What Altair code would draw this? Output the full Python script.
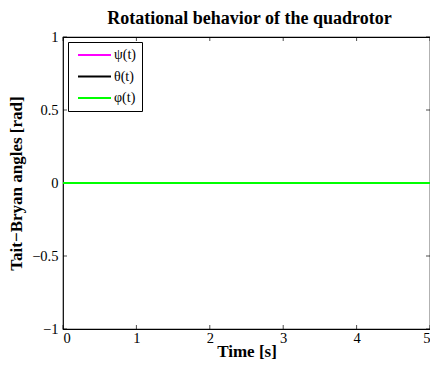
import altair as alt
import pandas as pd

time_s = [0, 5]
psi = [0, 0]
theta = [0, 0]
phi = [0, 0]
series_names = ["ψ(t)", "θ(t)", "φ(t)"]
series_colors = ["#ff00ff", "#000000", "#00ff00"]
x_ticks = [0, 1, 2, 3, 4, 5]
y_ticks = [-1, -0.5, 0, 0.5, 1]

rows = []
for i, (name, vals) in enumerate(zip(series_names, [psi, theta, phi])):
    for t, v in zip(time_s, vals):
        rows.append({"t": t, "v": v, "series": name, "k": i})
df = pd.DataFrame(rows)
df_xt = pd.DataFrame({"x": x_ticks})
df_yt = pd.DataFrame({"y": y_ticks})

FONT = "Liberation Serif"
xs = alt.Scale(domain=[0, 5], nice=False, zero=False)
ys = alt.Scale(domain=[-1, 1], nice=False, zero=False)

lines = alt.Chart(df).mark_line(strokeWidth=2, clip=True).encode(
    x=alt.X("t:Q", scale=xs, axis=alt.Axis(values=x_ticks, format="~g", title="Time [s]",
                                          ticks=False, domain=False, grid=False,
                                          labelPadding=2, titlePadding=-1)),
    y=alt.Y("v:Q", scale=ys, axis=alt.Axis(values=y_ticks, format="~g", title="Tait−Bryan angles [rad]",
                                          ticks=False, domain=False, grid=False,
                                          labelPadding=5, titlePadding=6)),
    color=alt.Color("series:N", sort=series_names,
                    scale=alt.Scale(domain=series_names, range=series_colors),
                    legend=alt.Legend(title=None, orient="none", legendX=5, legendY=5,
                                      strokeColor="black", fillColor="white", padding=6,
                                      symbolType="M-0.6,0H6", symbolStrokeWidth=2, symbolSize=100,
                                      labelFont=FONT, labelFontSize=14, labelColor="black",
                                      rowPadding=7.5, labelOffset=26)),
    detail="k:O",
)

bt = alt.Chart(df_xt).mark_tick(orient="vertical", size=4, thickness=1, color="black", yOffset=-2).encode(
    x=alt.X("x:Q", scale=xs), y=alt.datum(-1))
tt = alt.Chart(df_xt).mark_tick(orient="vertical", size=4, thickness=1, color="black", yOffset=2).encode(
    x=alt.X("x:Q", scale=xs), y=alt.datum(1))
lt = alt.Chart(df_yt).mark_tick(orient="horizontal", size=4, thickness=1, color="black", xOffset=2).encode(
    y=alt.Y("y:Q", scale=ys), x=alt.datum(0))
rt = alt.Chart(df_yt).mark_tick(orient="horizontal", size=4, thickness=1, color="black", xOffset=-2).encode(
    y=alt.Y("y:Q", scale=ys), x=alt.datum(5))

chart = alt.layer(bt, tt, lt, rt, lines).properties(
    width=367, height=292,
    title=alt.Title("Rotational behavior of the quadrotor", font=FONT, fontSize=18,
                    fontWeight="bold", color="black", anchor="middle", offset=1, dx=3),
    autosize=alt.AutoSizeParams(type="none"),
    padding={"left": 55, "top": 29, "right": 0, "bottom": 31},
).configure_view(stroke="black", strokeWidth=1.2).configure_axis(
    labelFont=FONT, labelFontSize=14.5, labelColor="black",
    titleFont=FONT, titleFontSize=17, titleFontWeight="bold", titleColor="black",
)

chart.save("out.html", embed_options={"renderer": "svg", "actions": False})
